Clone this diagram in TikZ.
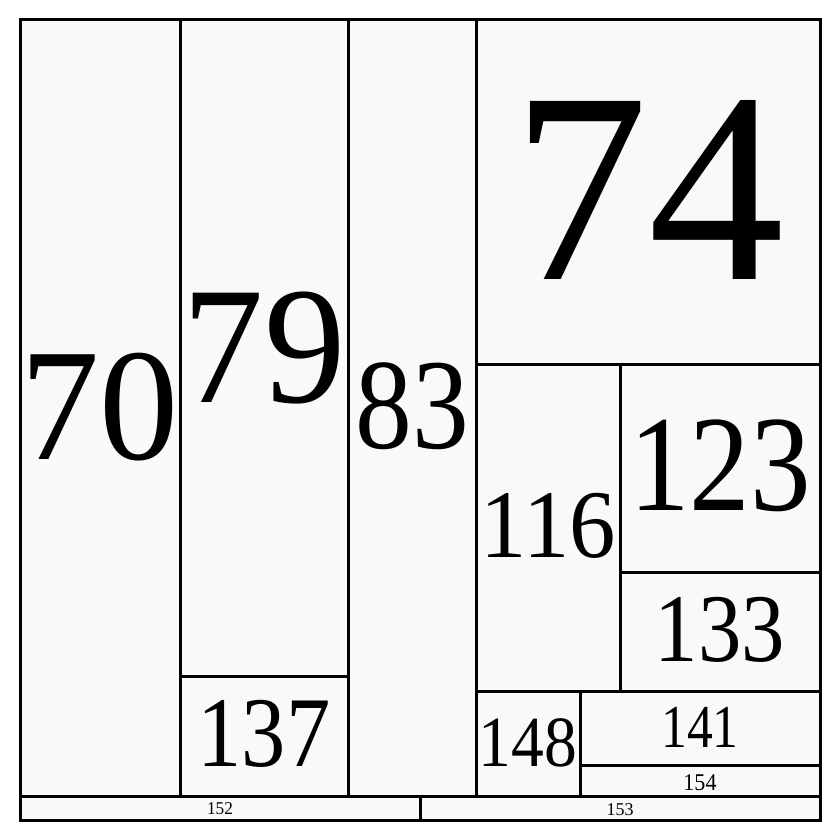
\documentclass[tikz,border=0pt]{standalone}
\usepackage{fontspec}
\setmainfont{Liberation Serif}
\definecolor{cellfill}{RGB}{249,249,249}
\tikzset{
  cell/.style={draw=black, fill=cellfill, line width=3pt, inner sep=0pt, outer sep=0pt, anchor=north west},
  lab/.style={inner sep=0pt, outer sep=0pt, anchor=base, text=black},
}
\newcommand{\fs}[3]{\scalebox{#2}[1]{\fontsize{#1}{#1}\selectfont #3}}
\begin{document}
\begin{tikzpicture}[x=1pt,y=-1pt]
\useasboundingbox (0,0) rectangle (840,840);
\fill[white] (0,0) rectangle (840,840);
% cells
\node[cell, minimum width=160pt, minimum height=776pt] (c70) at (20,20) {};
\node[cell, minimum width=168pt, minimum height=656pt] (c79) at (180,20) {};
\node[cell, minimum width=168pt, minimum height=120pt] (c137) at (180,676) {};
\node[cell, minimum width=128pt, minimum height=776pt] (c83) at (348,20) {};
\node[cell, minimum width=344pt, minimum height=344pt] (c74) at (476,20) {};
\node[cell, minimum width=144pt, minimum height=327pt] (c116) at (476,364) {};
\node[cell, minimum width=200pt, minimum height=208pt] (c123) at (620,364) {};
\node[cell, minimum width=200pt, minimum height=119pt] (c133) at (620,572) {};
\node[cell, minimum width=104pt, minimum height=105pt] (c148) at (476,691) {};
\node[cell, minimum width=240pt, minimum height=74pt] (c141) at (580,691) {};
\node[cell, minimum width=240pt, minimum height=31pt] (c154) at (580,765) {};
\node[cell, minimum width=400pt, minimum height=24pt] (c152) at (20,796) {};
\node[cell, minimum width=400pt, minimum height=24pt] (c153) at (420,796) {};
% labels
\node[lab] (l74) at (648,279) {\fs{272}{1.0}{74}};
\node[lab] (l70) at (100,459) {\fs{160}{0.99}{70}};
\node[lab] (l79) at (264,402) {\fs{167}{0.975}{79}};
\node[lab] (l83) at (412,448) {\fs{129}{0.88}{83}};
\node[lab] (l116) at (548,557) {\fs{97}{0.955}{116}};
\node[lab] (l123) at (720,510) {\fs{137}{0.885}{123}};
\node[lab] (l133) at (720,661) {\fs{97}{0.895}{133}};
\node[lab] (l137) at (264,766) {\fs{100}{0.885}{137}};
\node[lab] (l148) at (528,766) {\fs{72}{0.91}{148}};
\node[lab] (l141) at (700,747) {\fs{61}{0.845}{141}};
\node[lab] (l154) at (700,790) {\fs{24}{0.92}{154}};
\node[lab] (l152) at (220,814) {\fs{18}{0.96}{152}};
\node[lab] (l153) at (620,815) {\fs{18}{1.0}{153}};
\end{tikzpicture}
\end{document}
